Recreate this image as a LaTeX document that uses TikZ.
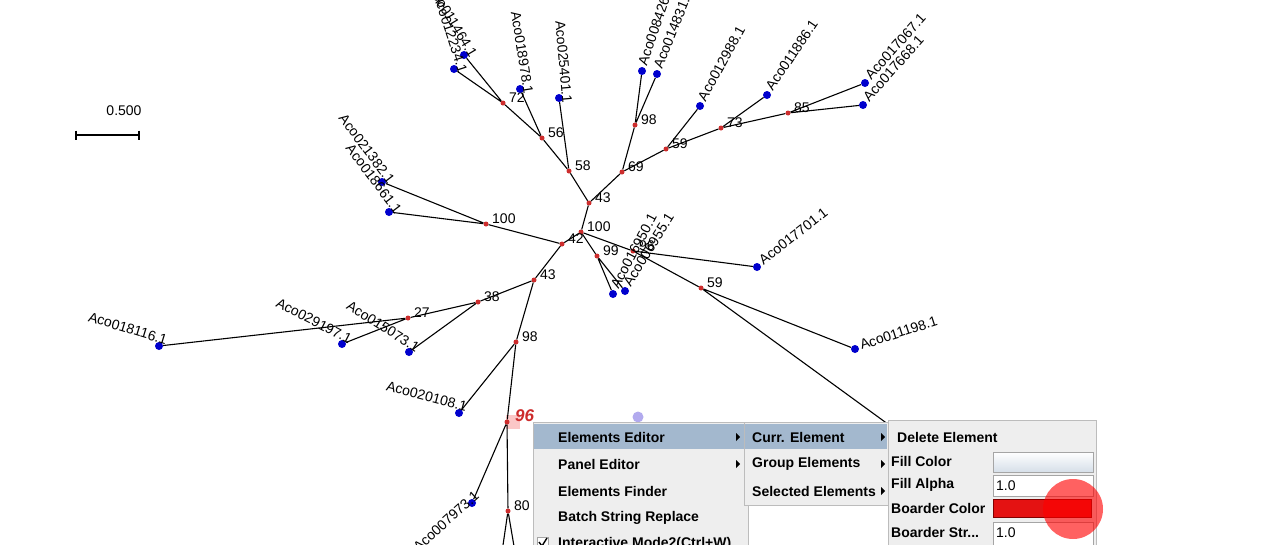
\documentclass[tikz,border=0pt]{standalone}
\usepackage{fontspec}
\setmainfont{Liberation Sans}
\usetikzlibrary{positioning}

\definecolor{leafblue}{RGB}{0,0,205}
\definecolor{splitred}{RGB}{205,45,45}
\definecolor{menubg}{RGB}{238,238,238}
\definecolor{menuhl}{RGB}{163,184,206}
\definecolor{menuline}{RGB}{188,188,188}
\definecolor{fieldline}{RGB}{165,165,165}
\definecolor{pointer}{RGB}{178,170,238}
\definecolor{markpink}{RGB}{250,185,185}
\definecolor{swatchred}{RGB}{228,18,18}

\begin{document}
\begin{tikzpicture}[
  x=1pt, y=-1pt,
  font=\fontsize{14}{16}\selectfont,
  branch/.style={line width=1.1pt, draw=black},
  leafdot/.style={circle, fill=leafblue, inner sep=0pt, minimum size=8pt},
  splitdot/.style={circle, fill=splitred, inner sep=0pt, minimum size=5pt},
  leafname/.style={inner sep=0pt, font=\fontsize{14}{16}\selectfont},
  leftend/.style={anchor=base east, xshift=6pt, yshift=3pt},
  rightend/.style={anchor=base west, xshift=6pt, yshift=-3pt},
  support/.style={anchor=west, inner sep=0pt, xshift=6pt, yshift=5pt},
  menupanel/.style={fill=menubg, draw=menuline, line width=0.8pt},
  menuband/.style={fill=menuhl},
  menuitem/.style={anchor=west, inner sep=0pt, font=\fontsize{14}{16}\selectfont\bfseries},
  fieldbox/.style={fill=white, draw=fieldline, line width=0.8pt},
]

\clip (0,0) rectangle (1280,544);
\fill[white] (0,0) rectangle (1280,544);

% Scale bar
\coordinate (barL) at (76,135);
\coordinate (barR) at (139,135);
\draw[line width=2.4pt] (barL) -- (barR);
\draw[line width=1.6pt] ([yshift=4.5pt]barL) -- ([yshift=-4.5pt]barL);
\draw[line width=1.6pt] ([yshift=4.5pt]barR) -- ([yshift=-4.5pt]barR);
\node[inner sep=0pt] at (124,111) (barval) {0.500};

% Highlight behind the picked split
\fill[markpink, opacity=0.8] (506,415) rectangle (520,429);

% Split points with support values
\node[splitdot] at (581,232) (n100a) {};
\node[splitdot] at (589,203) (n43a) {};
\node[splitdot] at (562,244) (n42) {};
\node[splitdot] at (569,171) (n58) {};
\node[splitdot] at (542,138) (n56) {};
\node[splitdot] at (503,103) (n72) {};
\node[splitdot] at (622,172) (n69) {};
\node[splitdot] at (635,125) (n98a) {};
\node[splitdot] at (666,149) (n59a) {};
\node[splitdot] at (721,128) (n73) {};
\node[splitdot] at (788,113) (n85) {};
\node[splitdot] at (486,224) (n100b) {};
\node[splitdot] at (597,256) (n99) {};
\node[splitdot] at (633,251) (n96a) {};
\node[splitdot] at (701,288) (n59b) {};
\node[splitdot] at (534,280) (n43b) {};
\node[splitdot] at (478,302) (n38) {};
\node[splitdot] at (408,318) (n27) {};
\node[splitdot] at (516,342) (n98b) {};
\node[splitdot] at (507,422) (n96b) {};
\node[splitdot] at (508,511) (n80) {};

\node[support] at (n100a) (s100a) {100};
\node[support] at (n43a) (s43a) {43};
\node[support] at (n42) (s42) {42};
\node[support] at (n58) (s58) {58};
\node[support] at (n56) (s56) {56};
\node[support] at (n72) (s72) {72};
\node[support] at (n69) (s69) {69};
\node[support] at (n98a) (s98a) {98};
\node[support] at (n59a) (s59a) {59};
\node[support] at (n73) (s73) {73};
\node[support] at (n85) (s85) {85};
\node[support] at (n100b) (s100b) {100};
\node[support] at (n99) (s99) {99};
\node[support] at (n96a) (s96a) {96};
\node[support] at (n59b) (s59b) {59};
\node[support] at (n43b) (s43b) {43};
\node[support] at (n38) (s38) {38};
\node[support] at (n27) (s27) {27};
\node[support] at (n98b) (s98b) {98};
\node[support, text=splitred, xshift=2pt, yshift=1pt, font=\fontsize{17}{19}\selectfont\bfseries\itshape] at (n96b) (s96b) {96};
\node[support] at (n80) (s80) {80};

% Leaves
\node[leafdot] at (464,55) (aco011464) {};
\node[leafdot] at (454,69) (aco012234) {};
\node[leafdot] at (520,89) (aco018978) {};
\node[leafdot] at (559,98) (aco025401) {};
\node[leafdot] at (382,182) (aco021382) {};
\node[leafdot] at (389,212) (aco018661) {};
\node[leafdot] at (642,71) (aco008426) {};
\node[leafdot] at (657,74) (aco014831) {};
\node[leafdot] at (700,106) (aco012988) {};
\node[leafdot] at (767,95) (aco011886) {};
\node[leafdot] at (865,83) (aco017067) {};
\node[leafdot] at (863,105) (aco017668) {};
\node[leafdot] at (613,294) (aco016950) {};
\node[leafdot] at (625,291) (aco006955) {};
\node[leafdot] at (757,267) (aco017701) {};
\node[leafdot] at (855,349) (aco011198) {};
\node[leafdot] at (159,346) (aco018116) {};
\node[leafdot] at (342,344) (aco029197) {};
\node[leafdot] at (409,352) (aco015073) {};
\node[leafdot] at (459,413) (aco020108) {};
\node[leafdot] at (472,503) (aco007973) {};
\coordinate (hidden) at (940,462);
\coordinate (cutA) at (502,552);
\coordinate (cutB) at (515,552);

\node[leafname, rotate=-59, leftend] at (aco011464) (l011464) {Aco011464.1};
\node[leafname, rotate=-72, leftend] at (aco012234) (l012234) {Aco012234.1};
\node[leafname, rotate=-81, leftend] at (aco018978) (l018978) {Aco018978.1};
\node[leafname, rotate=-85, leftend] at (aco025401) (l025401) {Aco025401.1};
\node[leafname, rotate=-53, leftend] at (aco021382) (l021382) {Aco021382.1};
\node[leafname, rotate=-53, leftend] at (aco018661) (l018661) {Aco018661.1};
\node[leafname, rotate=71, rightend] at (aco008426) (l008426) {Aco008426.1};
\node[leafname, rotate=68, rightend] at (aco014831) (l014831) {Aco014831.1};
\node[leafname, rotate=61, rightend] at (aco012988) (l012988) {Aco012988.1};
\node[leafname, rotate=56, rightend] at (aco011886) (l011886) {Aco011886.1};
\node[leafname, rotate=48, rightend] at (aco017067) (l017067) {Aco017067.1};
\node[leafname, rotate=48, rightend] at (aco017668) (l017668) {Aco017668.1};
\node[leafname, rotate=62, rightend] at (aco016950) (l016950) {Aco016950.1};
\node[leafname, rotate=58, rightend] at (aco006955) (l006955) {Aco006955.1};
\node[leafname, rotate=38, rightend] at (aco017701) (l017701) {Aco017701.1};
\node[leafname, rotate=18, rightend] at (aco011198) (l011198) {Aco011198.1};
\node[leafname, rotate=-17, leftend] at (aco018116) (l018116) {Aco018116.1};
\node[leafname, rotate=-27, leftend] at (aco029197) (l029197) {Aco029197.1};
\node[leafname, rotate=-32, leftend] at (aco015073) (l015073) {Aco015073.1};
\node[leafname, rotate=-15, leftend] at (aco020108) (l020108) {Aco020108.1};
\node[leafname, rotate=42, leftend, xshift=4pt, yshift=-4pt] at (aco007973) (l007973) {Aco007973.1};

% Branches
\draw[branch] (n100a) -- (n43a) (n100a) -- (n42) (n100a) -- (n99) (n100a) -- (n96a);
\draw[branch] (n43a) -- (n58) (n43a) -- (n69);
\draw[branch] (n58) -- (n56) (n58) -- (aco025401);
\draw[branch] (n56) -- (n72) (n56) -- (aco018978);
\draw[branch] (n72) -- (aco011464) (n72) -- (aco012234);
\draw[branch] (n69) -- (n98a) (n69) -- (n59a);
\draw[branch] (n98a) -- (aco008426) (n98a) -- (aco014831);
\draw[branch] (n59a) -- (aco012988) (n59a) -- (n73);
\draw[branch] (n73) -- (aco011886) (n73) -- (n85);
\draw[branch] (n85) -- (aco017067) (n85) -- (aco017668);
\draw[branch] (n42) -- (n100b) (n42) -- (n43b);
\draw[branch] (n100b) -- (aco021382) (n100b) -- (aco018661);
\draw[branch] (n43b) -- (n38) (n43b) -- (n98b);
\draw[branch] (n38) -- (n27) (n38) -- (aco015073);
\draw[branch] (n27) -- (aco018116) (n27) -- (aco029197);
\draw[branch] (n98b) -- (aco020108) (n98b) -- (n96b);
\draw[branch] (n96b) -- (aco007973) (n96b) -- (n80);
\draw[branch] (n80) -- (cutA) (n80) -- (cutB);
\draw[branch] (n99) -- (aco016950) (n99) -- (aco006955);
\draw[branch] (n96a) -- (aco017701) (n96a) -- (n59b);
\draw[branch] (n59b) -- (aco011198) (n59b) -- (hidden);

% Mouse pointer mark
\node[circle, fill=pointer, inner sep=0pt, minimum size=11pt] at (638,417) (pointerdot) {};

% Context menu
\draw[menupanel] (533,422) rectangle (748,560);
\fill[menuband] (534,424) rectangle (745,449);
\node[menuitem] at (558,437) (mEdit) {Elements Editor};
\node[menuitem] at (558,464) (mPanel) {Panel Editor};
\node[menuitem] at (558,491) (mFind) {Elements Finder};
\node[menuitem] at (558,518) (mBatch) {Batch String Replace};
\node[menuitem] at (558,544) (mMode) {Interactive Mode2(Ctrl+W)};
\draw[fill=white, draw=fieldline] (537,537) rectangle (548,548);
\draw[line width=1.4pt] (539,542) -- (542,546) -- (547,538);
\fill[shift={(738,437)}] (-2,-4) -- (2,0) -- (-2,4) -- cycle;
\fill[shift={(738,464)}] (-2,-4) -- (2,0) -- (-2,4) -- cycle;

% Sub menu
\draw[menupanel] (744,422) rectangle (888,505);
\fill[menuband] (745,424) rectangle (887,449);
\node[menuitem] at (752,437) (mCurr) {Curr. Element};
\node[menuitem] at (752,464) (mGroup) {Group Elements};
\node[menuitem] at (752,491) (mSel) {Selected Elements};
\fill[shift={(883,437)}] (-2,-4) -- (2,0) -- (-2,4) -- cycle;
\fill[shift={(883,464)}] (-2,-4) -- (2,0) -- (-2,4) -- cycle;
\fill[shift={(883,491)}] (-2,-4) -- (2,0) -- (-2,4) -- cycle;

% Element menu
\draw[menupanel] (888,420) rectangle (1096,560);
\node[menuitem] at (897,437) (mDel) {Delete Element};
\node[menuitem] at (891,461) (mFill) {Fill Color};
\node[menuitem] at (891,485) (mAlpha) {Fill Alpha};
\node[menuitem] at (891,508) (mBorder) {Boarder Color};
\node[menuitem] at (891,532) (mStroke) {Boarder Str...};
\shade[top color=white, bottom color=menuhl!45, draw=fieldline] (993,452) rectangle (1093,472);
\draw[fieldbox] (993,475) rectangle (1093,496);
\node[anchor=west, inner sep=0pt] at (996,486) (vAlpha) {1.0};
\draw[fill=swatchred, draw=red!50!black] (993,499) rectangle (1091,517);
\draw[fieldbox] (993,522) rectangle (1093,546);
\node[anchor=west, inner sep=0pt] at (996,533) (vStroke) {1.0};

% Click mark
\fill[red, opacity=0.62] (1073,509) circle (30pt);

\end{tikzpicture}
\end{document}
